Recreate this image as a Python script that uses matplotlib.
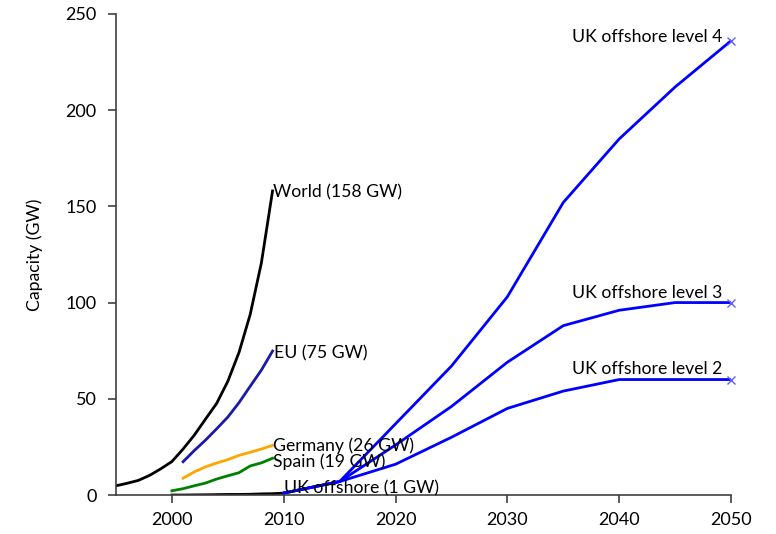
import matplotlib
matplotlib.use('Agg')
import matplotlib.pyplot as plt

# historic capacity (GW)
world_years = list(range(1995, 2010))
world = [4.8, 6.1, 7.6, 10.2, 13.6, 17.4, 23.9, 31.1, 39.4, 47.6, 59.1, 74.1, 93.8, 120.6, 158]

eu_years = list(range(2001, 2010))
eu = [17.3, 23.1, 28.5, 34.4, 40.5, 48.0, 56.5, 64.9, 74.8]

germany_years = list(range(2001, 2010))
germany = [8.75, 12.0, 14.6, 16.6, 18.4, 20.6, 22.2, 23.9, 25.8]

spain_years = list(range(2000, 2010))
spain = [2.2, 3.3, 4.8, 6.2, 8.3, 10.0, 11.6, 15.1, 16.7, 19.1]

ukoff_years = list(range(2000, 2011))
ukoff = [0.0, 0.0, 0.06, 0.12, 0.21, 0.3, 0.3, 0.39, 0.59, 0.69, 1.0]

# scenarios
scen_years = [2010, 2015, 2020, 2025, 2030, 2035, 2040, 2045, 2050]
level2 = [1.0, 7, 16, 30, 45, 54, 60, 60, 60]
level3 = [1.0, 7, 26, 46, 69, 88, 96, 100, 100]
level4 = [1.0, 7, 37, 67, 103, 152, 185, 212, 236]

plt.rcParams['font.family'] = ['Lato', 'DejaVu Sans']

fig = plt.figure(figsize=(7.76, 5.34), dpi=100)
ax = fig.add_axes([0.1495, 0.073, 0.7925, 0.901])

ax.plot(world_years, world, color='black', lw=2)
ax.plot(eu_years, eu, color='#1a1aa8', lw=2)
ax.plot(germany_years, germany, color='#ffa500', lw=2)
ax.plot(spain_years, spain, color='#008000', lw=2)
ax.plot(ukoff_years, ukoff, color='black', lw=2)

for lv in [level2, level3, level4]:
    ax.plot(scen_years, lv, color='#0000ff', lw=2)
    ax.plot(scen_years[-1], lv[-1], 'x', color='#6060ff', ms=6, mew=1, clip_on=False)

fs = 12.7
ax.text(2009.0, world[-1] - 1, 'World (158 GW)', fontsize=fs, va='center', ha='left')
ax.text(2009.1, eu[-1] - 1, 'EU (75 GW)', fontsize=fs, va='center', ha='left')
ax.text(2009.0, germany[-1], 'Germany (26 GW)', fontsize=fs, va='center', ha='left')
ax.text(2009.0, spain[-1] - 2, 'Spain (19 GW)', fontsize=fs, va='center', ha='left')
ax.text(2010.0, 3.5, 'UK offshore (1 GW)', fontsize=fs, va='center', ha='left')
ax.text(2049.2, 238, 'UK offshore level 4', fontsize=fs, va='center', ha='right')
ax.text(2049.2, 105, 'UK offshore level 3', fontsize=fs, va='center', ha='right')
ax.text(2049.2, 65.5, 'UK offshore level 2', fontsize=fs, va='center', ha='right')

ax.set_xlim(1995, 2050)
ax.set_ylim(0, 250)
ax.set_xticks([2000, 2010, 2020, 2030, 2040, 2050])
ax.set_yticks([0, 50, 100, 150, 200, 250])
ax.set_ylabel('Capacity (GW)', fontsize=fs, labelpad=16)
ax.tick_params(labelsize=13, color='#404040', length=6, width=1.2)
ax.tick_params(axis='y', pad=8)
ax.tick_params(axis='x', pad=6)
ax.spines['top'].set_visible(False)
ax.spines['right'].set_visible(False)
for s in ['left', 'bottom']:
    ax.spines[s].set_color('#404040')
    ax.spines[s].set_linewidth(1.2)

fig.savefig('out.png', dpi=100)
